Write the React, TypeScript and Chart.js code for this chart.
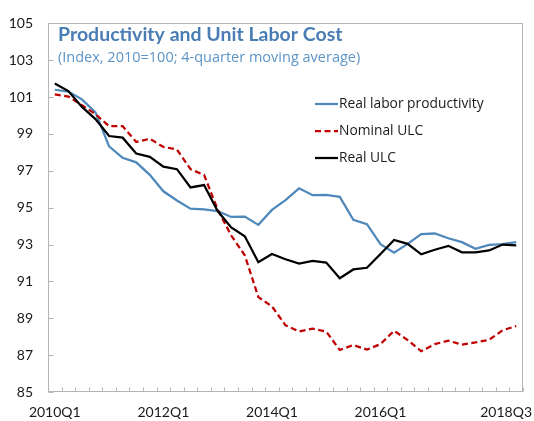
import React, { useEffect, useRef } from 'react';
import { Chart, registerables } from 'chart.js';

Chart.register(...registerables);

const quarters: string[] = [
  '2010Q1', '2010Q2', '2010Q3', '2010Q4',
  '2011Q1', '2011Q2', '2011Q3', '2011Q4',
  '2012Q1', '2012Q2', '2012Q3', '2012Q4',
  '2013Q1', '2013Q2', '2013Q3', '2013Q4',
  '2014Q1', '2014Q2', '2014Q3', '2014Q4',
  '2015Q1', '2015Q2', '2015Q3', '2015Q4',
  '2016Q1', '2016Q2', '2016Q3', '2016Q4',
  '2017Q1', '2017Q2', '2017Q3', '2017Q4',
  '2018Q1', '2018Q2', '2018Q3',
];

const shownXLabels: string[] = ['2010Q1', '2012Q1', '2014Q1', '2016Q1', '2018Q3'];

const realLaborProductivity: number[] = [
  101.4, 101.3, 100.88, 100.17, 98.33, 97.71, 97.46, 96.78, 95.89, 95.39,
  94.95, 94.91, 94.82, 94.5, 94.52, 94.07, 94.88, 95.41, 96.05, 95.68,
  95.7, 95.59, 94.34, 94.11, 93.02, 92.56, 93.04, 93.57, 93.6, 93.34,
  93.13, 92.77, 92.98, 93.02, 93.13,
];

const nominalULC: number[] = [
  101.15, 101.03, 100.56, 100.08, 99.42, 99.42, 98.57, 98.74, 98.3, 98.16,
  97.09, 96.78, 94.91, 93.49, 92.42, 90.15, 89.65, 88.62, 88.28, 88.44,
  88.28, 87.28, 87.55, 87.3, 87.6, 88.32, 87.82, 87.21, 87.6, 87.78,
  87.57, 87.69, 87.83, 88.35, 88.58,
];

const realULC: number[] = [
  101.74, 101.33, 100.47, 99.81, 98.89, 98.8, 97.94, 97.76, 97.23, 97.09,
  96.1, 96.23, 94.82, 93.93, 93.45, 92.04, 92.49, 92.2, 91.97, 92.11,
  92.02, 91.17, 91.65, 91.74, 92.49, 93.25, 93.04, 92.47, 92.72, 92.93,
  92.58, 92.58, 92.68, 93.0, 92.95,
];

const seriesNames: string[] = ['Real labor productivity', 'Nominal ULC', 'Real ULC'];

const titleText = 'Productivity and Unit Labor Cost';
const subtitleText = '(Index, 2010=100; 4-quarter moving average)';

const FONT = 'Lato, "Open Sans", sans-serif';
const FONT2 = '"Open Sans", Lato, sans-serif';

const decorPlugin = {
  id: 'decor',
  beforeDatasetsDraw(chart: any) {
    const { ctx, chartArea: a, scales } = chart;
    const xs = scales.x;
    const ys = scales.y;
    ctx.save();
    ctx.strokeStyle = '#b5b5b5';
    ctx.lineWidth = 1;
    const l = Math.round(a.left) + 0.5;
    const r = Math.round(a.right) - 0.5;
    const t = Math.round(a.top) + 0.5;
    const b = Math.round(a.bottom) - 0.5;
    ctx.strokeRect(l, t, r - l, b - t);
    ys.ticks.forEach((tk: any) => {
      const py = Math.round(ys.getPixelForValue(tk.value)) + 0.5;
      ctx.beginPath();
      ctx.moveTo(l, py);
      ctx.lineTo(l + 5, py);
      ctx.stroke();
    });
    for (let i = 0; i <= quarters.length; i++) {
      const px = Math.round(xs.getPixelForValue(i - 0.5)) + 0.5;
      ctx.beginPath();
      ctx.moveTo(px, b);
      ctx.lineTo(px, b - 4);
      ctx.stroke();
    }
    ctx.restore();
  },
  afterDraw(chart: any) {
    const { ctx, chartArea: a, scales, width } = chart;
    const xs = scales.x;
    ctx.save();
    ctx.font = `14px ${FONT}`;
    ctx.fillStyle = '#1a1a1a';
    ctx.textBaseline = 'middle';
    ctx.textAlign = 'center';
    quarters.forEach((q, i) => {
      if (!shownXLabels.includes(q)) return;
      const w = ctx.measureText(q).width;
      let px = xs.getPixelForValue(i);
      px = Math.min(px, width - 2 - w / 2);
      ctx.fillText(q, px, a.bottom + 20);
    });
    ctx.textAlign = 'left';
    ctx.textBaseline = 'alphabetic';
    ctx.font = `bold 19.5px ${FONT}`;
    ctx.fillStyle = '#4a7db3';
    ctx.fillText(titleText, a.left + 10, 41);
    ctx.font = `14.5px ${FONT2}`;
    ctx.fillStyle = '#5d94c6';
    ctx.fillText(subtitleText, a.left + 10, 62);
    const lx = 315;
    const rows = [104, 131, 158];
    ctx.font = `13.8px ${FONT2}`;
    ctx.textBaseline = 'middle';
    chart.data.datasets.forEach((ds: any, i: number) => {
      const yy = rows[i];
      ctx.beginPath();
      ctx.strokeStyle = ds.borderColor;
      ctx.lineWidth = ds.borderWidth;
      ctx.setLineDash(ds.borderDash || []);
      ctx.moveTo(lx, yy);
      ctx.lineTo(lx + 23, yy);
      ctx.stroke();
      ctx.setLineDash([]);
      ctx.fillStyle = '#1a1a1a';
      ctx.fillText(ds.label, lx + 24, yy);
    });
    ctx.restore();
  },
};

export default function App() {
  const ref = useRef<HTMLCanvasElement | null>(null);

  useEffect(() => {
    if (!ref.current) return;
    const chart = new Chart(ref.current, {
      type: 'line',
      data: {
        labels: quarters,
        datasets: [
          {
            label: seriesNames[0],
            data: realLaborProductivity,
            borderColor: '#4f88bb',
            borderWidth: 2.25,
            pointRadius: 0,
            tension: 0,
            order: 2,
          },
          {
            label: seriesNames[1],
            data: nominalULC,
            borderColor: '#c00000',
            borderWidth: 2.25,
            borderDash: [6, 3.5],
            pointRadius: 0,
            tension: 0,
            order: 1,
          },
          {
            label: seriesNames[2],
            data: realULC,
            borderColor: '#000000',
            borderWidth: 2.25,
            pointRadius: 0,
            tension: 0,
            order: 0,
          },
        ],
      },
      options: {
        animation: false,
        responsive: false,
        maintainAspectRatio: false,
        layout: { padding: { top: 18, right: 11, bottom: 0, left: 0 } },
        plugins: {
          legend: { display: false },
          title: { display: false },
          tooltip: { enabled: false },
        },
        scales: {
          x: {
            type: 'category',
            offset: true,
            grid: { display: false, drawTicks: false },
            border: { display: false },
            ticks: { display: false },
            afterFit: (s: any) => { s.height = 29; },
          },
          y: {
            min: 85,
            max: 105,
            grid: { display: false, drawTicks: false },
            border: { display: false },
            ticks: {
              stepSize: 2,
              padding: 15,
              color: '#1a1a1a',
              font: { family: FONT, size: 14 },
            },
            afterFit: (s: any) => { s.width = 48; },
          },
        },
      },
      plugins: [decorPlugin],
    } as any);
    return () => chart.destroy();
  }, []);

  return (
    <div style={{ position: 'absolute', left: 0, top: 0, width: 534, height: 421, background: '#fff' }}>
      <canvas ref={ref} width={534} height={421} />
    </div>
  );
}
